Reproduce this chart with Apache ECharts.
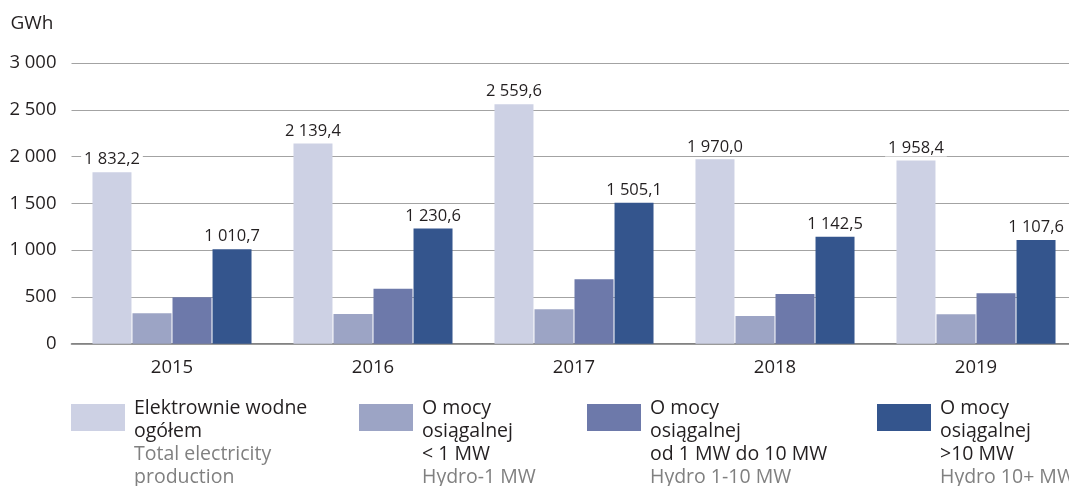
<!DOCTYPE html>
<html>
<head>
<meta charset="utf-8">
<script src="https://cdn.jsdelivr.net/npm/echarts@6/dist/echarts.min.js"></script>
<style>
  html, body { margin: 0; padding: 0; background: #fff; }
  #chart { width: 1069px; height: 486px; }
</style>
</head>
<body>
<div id="chart"></div>
<script>
// Hydro electricity production, GWh
const years = ['2015', '2016', '2017', '2018', '2019'];
const totalHydro = [1832.2, 2139.4, 2559.6, 1970.0, 1958.4];
const hydroUnder1 = [326, 318, 368, 296, 314];
const hydro1to10 = [497, 586, 689, 531, 540];
const hydroOver10 = [1010.7, 1230.6, 1505.1, 1142.5, 1107.6];

const seriesNames = [
  'Elektrownie wodne ogółem',
  'O mocy osiągalnej < 1 MW',
  'O mocy osiągalnej od 1 MW do 10 MW',
  'O mocy osiągalnej >10 MW'
];
// legend text: Polish lines, then English lines
const legendPl = [
  ['Elektrownie wodne', 'ogółem'],
  ['O mocy', 'osiągalnej', '< 1 MW'],
  ['O mocy', 'osiągalnej', 'od 1 MW do 10 MW'],
  ['O mocy', 'osiągalnej', '>10 MW']
];
const legendEn = [
  ['Total electricity', 'production'],
  ['Hydro-1 MW'],
  ['Hydro 1-10 MW'],
  ['Hydro 10+ MW']
];
const yTicks = [0, 500, 1000, 1500, 2000, 2500, 3000];

const colors = ['#cdd1e4', '#9ca4c5', '#6d79aa', '#34558d'];
const FONT = '"Open Sans", "Noto Sans", sans-serif';
const TEXT = '#231f20';

function thousands(v) {
  return String(Math.round(v)).replace(/\B(?=(\d{3})+(?!\d))/g, ' ');
}
function decimalLabel(v) {
  const parts = v.toFixed(1).split('.');
  return parts[0].replace(/\B(?=(\d{3})+(?!\d))/g, ' ') + ',' + parts[1];
}

const legendLefts = [66, 354, 582, 872];
const legends = seriesNames.map((name, i) => ({
  data: [name],
  left: legendLefts[i],
  top: 393,
  orient: 'vertical',
  icon: 'rect',
  itemWidth: 54,
  itemHeight: 27,
  selectedMode: false,
  formatter: () => legendPl[i].map(s => '{a|' + s + '}')
    .concat(legendEn[i].map(s => '{b|' + s + '}')).join('\n'),
  textStyle: {
    padding: [50, 0, 0, 4],
    rich: {
      a: { fontSize: 19.5, lineHeight: 23, color: TEXT, fontFamily: FONT },
      b: { fontSize: 19.5, lineHeight: 23, color: '#808080', fontFamily: FONT }
    }
  }
}));

const valueLabel = {
  show: true,
  position: 'top',
  distance: 4,
  color: TEXT,
  fontSize: 16.5,
  fontFamily: FONT,
  backgroundColor: '#ffffff',
  padding: [0, 3],
  formatter: p => decimalLabel(p.value)
};

const data = [totalHydro, hydroUnder1, hydro1to10, hydroOver10];

const option = {
  animation: false,
  backgroundColor: '#ffffff',
  textStyle: { fontFamily: FONT },
  grid: {
    left: 71.5,
    right: -7.5,
    top: 63,
    bottom: 142.3,
    outerBoundsMode: 'none'
  },
  legend: legends,
  xAxis: {
    type: 'category',
    data: years,
    axisTick: { show: false },
    axisLine: { lineStyle: { color: '#7a7a7a', width: 1.6 } },
    axisLabel: { color: TEXT, fontSize: 18.5, fontFamily: FONT, margin: 15 }
  },
  yAxis: {
    type: 'value',
    min: 0,
    max: 3000,
    interval: 500,
    name: 'GWh',
    nameLocation: 'end',
    nameGap: 30,
    nameTextStyle: { color: TEXT, fontSize: 19, fontFamily: FONT, align: 'right', padding: [0, 18, 0, 0] },
    axisLine: { show: false },
    axisTick: { show: false },
    splitLine: { lineStyle: { color: '#a3a3a3', width: 1.2 } },
    axisLabel: {
      color: TEXT, fontSize: 18.5, fontFamily: FONT, margin: 15,
      formatter: v => yTicks.includes(v) ? thousands(v) : ''
    }
  },
  series: seriesNames.map((name, i) => ({
    name,
    type: 'bar',
    data: data[i],
    barWidth: 39,
    barGap: '2.6%',
    itemStyle: { color: colors[i] },
    label: (i === 0 || i === 3) ? valueLabel : { show: false }
  }))
};

const chart = echarts.init(document.getElementById('chart'), null, { renderer: 'canvas' });
chart.setOption(option);
</script>
</body>
</html>
